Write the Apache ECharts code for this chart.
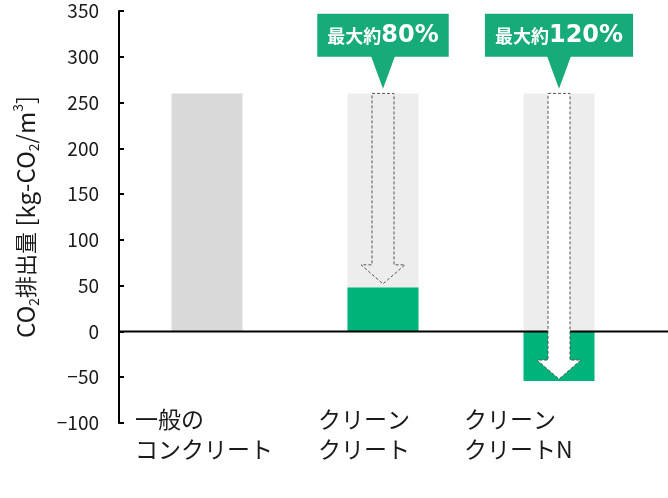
<!DOCTYPE html>
<html>
<head>
<meta charset="utf-8">
<script src="https://cdn.jsdelivr.net/npm/echarts@6/dist/echarts.min.js"></script>
<style>html,body{margin:0;padding:0;background:#fff;}#c{width:668px;height:498px;}</style>
</head>
<body>
<div id="c"></div>
<script>
// ---- data ----
const categories = ['一般の\nコンクリート', 'クリーン\nクリート', 'クリーン\nクリートN'];
const baselineValues = [260, 260, 260];
const reducedValues = [null, 48, -54];
const arrowFrom = [null, 260, 260];
const arrowTo = [null, 52, -52];
const calloutPrefix = '最大約';
const calloutValues = [null, '80%', '120%'];
const calloutTip = [null, 265, 265];
const yMin = -100, yMax = 350, yInterval = 50;

// ---- styles ----
const FONT = 'Noto Sans CJK JP';
const GREEN = '#00b37b';
const CALLOUT_GREEN = '#17ab79';
const labelBoxWidths = [144, 130, 190];

const chart = echarts.init(document.getElementById('c'), null, {renderer: 'canvas'});

const arrowData = [];
const calloutData = [];
categories.forEach((c, i) => {
  if (arrowFrom[i] != null) arrowData.push([i, arrowFrom[i], arrowTo[i]]);
  if (calloutValues[i] != null) calloutData.push([i, calloutTip[i], calloutValues[i]]);
});

const rich = {};
labelBoxWidths.forEach((w, i) => {
  rich['c' + i] = {width: w, align: 'left', fontSize: 23, lineHeight: 30, fontFamily: FONT, color: '#1a1a1a'};
});

const option = {
  animation: false,
  grid: {left: 119, right: 21, top: 11, bottom: 75},
  xAxis: {
    type: 'category',
    data: categories,
    position: 'bottom',
    axisLine: {show: false, onZero: false},
    axisTick: {show: false},
    axisLabel: {
      margin: -19,
      interval: 0,
      formatter: function (v, idx) {
        return v.split('\n').map(l => '{c' + idx + '|' + l + '}').join('\n');
      },
      rich: rich
    }
  },
  yAxis: {
    type: 'value',
    min: yMin, max: yMax, interval: yInterval,
    splitLine: {show: false},
    axisLine: {show: true, lineStyle: {color: '#000', width: 2}},
    axisTick: {show: true, inside: true, length: 5, lineStyle: {color: '#000', width: 2}},
    axisLabel: {
      fontSize: 19, fontFamily: FONT, color: '#1a1a1a', margin: 20,
      formatter: function (v) { return String(v).replace('-', '\u2212'); }
    },
    name: '{n|CO}{s|2}{j|排出量}{n| [kg-CO}{s|2}{n|/m}{p|3}{n|]}',
    nameLocation: 'middle',
    nameRotate: 90,
    nameGap: 78,
    nameTextStyle: {
      fontFamily: FONT,
      rich: {
        n: {fontSize: 24, fontFamily: FONT, color: '#1a1a1a', lineHeight: 30, verticalAlign: 'middle'},
        j: {fontSize: 22, fontFamily: FONT, color: '#1a1a1a', lineHeight: 30, verticalAlign: 'middle'},
        s: {fontSize: 14, fontFamily: FONT, color: '#1a1a1a', lineHeight: 30, verticalAlign: 'bottom'},
        p: {fontSize: 14, fontFamily: FONT, color: '#1a1a1a', lineHeight: 30, verticalAlign: 'top'}
      }
    }
  },
  series: [
    {
      type: 'bar',
      data: baselineValues,
      barWidth: 71,
      itemStyle: {color: function (p) { return p.dataIndex === 0 ? '#d9d9d9' : '#ededed'; }},
      z: 2
    },
    {
      type: 'bar',
      data: reducedValues,
      barWidth: 71,
      barGap: '-100%',
      itemStyle: {color: GREEN},
      z: 3
    },
    {
      type: 'custom',
      data: arrowData,
      z: 10,
      renderItem: function (params, api) {
        const cat = api.value(0);
        const p0 = api.coord([cat, api.value(1)]);
        const p1 = api.coord([cat, api.value(2)]);
        const cx = p0[0], top = p0[1], tip = p1[1];
        const sh = 11, hh = 22, hl = 19;
        const pts = [[cx - sh, top], [cx + sh, top], [cx + sh, tip - hl], [cx + hh, tip - hl], [cx, tip], [cx - hh, tip - hl], [cx - sh, tip - hl]];
        const filled = api.value(2) < 0;
        return {
          type: 'polygon',
          shape: {points: pts},
          style: {fill: filled ? '#ffffff' : 'none', stroke: '#555', lineWidth: 1, lineDash: [3, 2]}
        };
      }
    },
    {
      type: 'custom',
      data: calloutData,
      z: 12,
      renderItem: function (params, api) {
        const cat = api.value(0);
        const p = api.coord([cat, api.value(1)]);
        const cx = p[0], tip = p[1];
        const th = 33;
        const txt = calloutValues[cat];
        return {
          type: 'group',
          children: [
            {
              type: 'polygon',
              shape: {points: [[cx - 12.5, tip - th - 1], [cx + 12.5, tip - th - 1], [cx, tip]]},
              style: {fill: CALLOUT_GREEN}
            },
            {
              type: 'text',
              x: cx, y: tip - th + 1,
              style: {
                text: '{a|' + calloutPrefix + '}{b|' + txt + '}',
                align: 'center',
                verticalAlign: 'bottom',
                backgroundColor: CALLOUT_GREEN,
                padding: [8, 10, 7, 10],
                rich: {
                  a: {fontSize: 18, fontWeight: 'bold', fontFamily: FONT, fill: '#fff', lineHeight: 28},
                  b: {fontSize: 24, fontWeight: 'bold', fontFamily: 'DejaVu Sans', fill: '#fff', lineHeight: 28}
                }
              }
            }
          ]
        };
      }
    }
  ]
};

chart.setOption(option);

const y0 = chart.convertToPixel({yAxisIndex: 0}, 0);
chart.setOption({
  graphic: [{
    type: 'line',
    z: 5,
    shape: {x1: 119, y1: y0, x2: 668, y2: y0},
    style: {stroke: '#000', lineWidth: 2}
  }]
});
</script>
</body>
</html>
